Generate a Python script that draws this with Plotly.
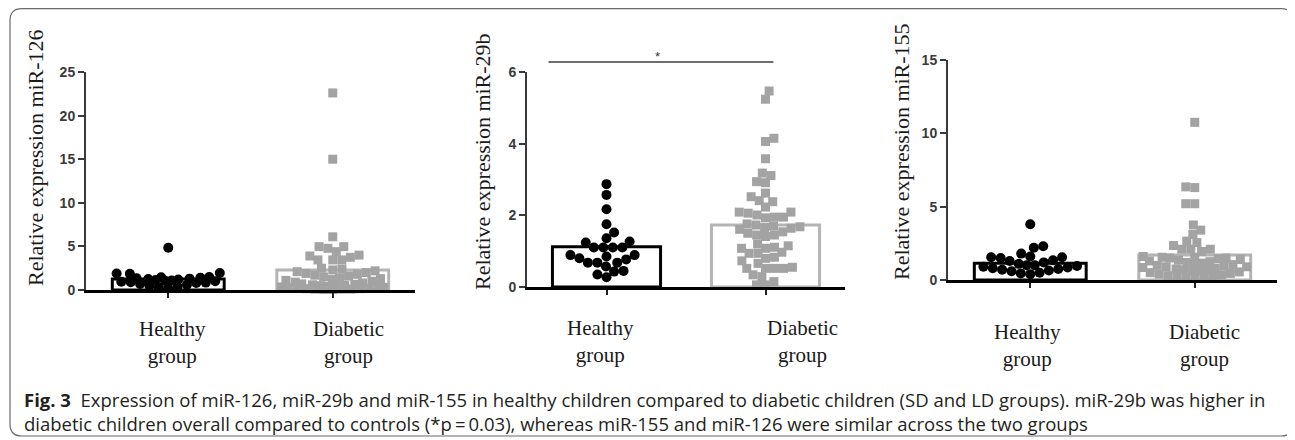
import math
import numpy as np
import plotly.graph_objects as go

# ---------------- data ----------------
GROUPS = ["Healthy group", "Diabetic group"]
TITLES = ["Relative expression miR-126", "Relative expression miR-29b", "Relative expression miR-155"]

HEALTHY_126 = [4.85, 1.95, 1.9, 1.85, 1.5, 1.45, 1.4, 1.35, 1.3, 1.25, 1.2, 1.15, 1.1,
               1.05, 1.0, 0.95, 0.9, 0.85, 0.8, 0.7, 0.6, 0.5, 0.4, 0.3, 0.2]
DIABETIC_126 = [22.6, 15.0, 6.1, 4.97, 4.97, 4.78, 4.4, 4.0, 3.9, 3.75, 3.45, 3.45, 3.45,
                2.5, 2.4, 2.3, 2.2, 2.1, 2.0, 1.9, 1.8, 1.7, 1.6, 1.5, 1.4, 1.3, 1.2, 1.1, 1.0,
                0.9, 0.8, 0.7, 0.65, 0.6, 0.55, 0.5, 0.45, 0.4, 0.35, 0.3, 0.3, 0.25, 0.2, 0.2,
                0.15, 0.15, 0.1, 0.1, 0.1, 0.05, 0.05]
MEANS_126 = [1.25, 2.3]

HEALTHY_29B = [2.87, 2.57, 2.17, 1.75, 1.52, 1.36, 1.27, 1.24, 1.1, 1.1, 1.1, 1.1, 0.89,
               0.89, 0.85, 0.77, 0.80, 0.68, 0.68, 0.68, 0.57, 0.43, 0.45, 0.35, 0.27]
DIABETIC_29B = [5.47, 5.24, 4.15, 4.06, 3.58, 3.18, 3.11, 2.94, 2.91, 2.62, 2.52, 2.41, 2.38, 2.23,
                2.09, 2.09, 2.06, 2.01, 1.95, 1.95, 1.93,
                1.76, 1.73, 1.70, 1.68, 1.66, 1.64, 1.61,
                1.54, 1.45, 1.41, 1.45, 1.50,
                1.20, 1.15, 1.11, 1.08, 1.08, 0.97, 0.94, 0.94,
                0.83, 0.80, 0.73, 0.66,
                0.55, 0.52, 0.52, 0.52, 0.52,
                0.34, 0.29, 0.15, 0.06, 0.06]
MEANS_29B = [1.12, 1.73]

HEALTHY_155 = [3.8, 2.3, 2.2, 1.8, 1.6, 1.55, 1.55, 1.5, 1.35, 1.3, 1.2, 1.1, 1.0, 1.0, 0.95,
               0.9, 0.85, 0.8, 0.75, 0.7, 0.65, 0.6, 0.5, 0.45, 0.4]
DIABETIC_155 = [10.75, 6.35, 6.3, 5.2, 5.2, 3.75, 3.4, 3.1, 2.65, 2.55, 2.35, 2.1, 2.1, 2.1, 1.95,
                1.6, 1.55, 1.55, 1.5, 1.5, 1.45, 1.4, 1.35, 1.3, 1.25, 1.2, 1.15, 1.1, 1.05, 1.0,
                0.95, 0.9, 0.9, 0.85, 0.8, 0.75, 0.7, 0.7, 0.65, 0.6, 0.55, 0.5, 0.45, 0.4, 0.35,
                0.3, 0.25, 0.2, 0.15, 0.1, 0.1]
MEANS_155 = [1.15, 1.7]

Y_MAX = [25, 6, 15]
Y_DTICK = [5, 2, 5]
SIG_LEVEL = 6.28
SIG_LABEL = "*"

CAPTION = ("<b>Fig. 3</b>  Expression of miR-126, miR-29b and miR-155 in healthy children compared to "
           "diabetic children (SD and LD groups). miR-29b was higher in<br>"
           "diabetic children overall compared to controls (*p\u2009=\u20090.03), whereas miR-155 and "
           "miR-126 were similar across the two groups")

# ---------------- layout geometry (window pixels) ----------------
VW, VH = 1295, 440          # browser window
OFF = 8                     # default page body margin
W, H = VW - OFF, VH - OFF   # figure size so the page fits the window exactly
PANELS = [
    dict(x=(86, 415), y=(72, 290)),
    dict(x=(527, 845), y=(72, 287)),
    dict(x=(948, 1277), y=(60, 280)),
]
XR = [0.5, 2.5]
BAR_W = 0.68
LABEL_POS = [  # (healthy x, diabetic x, y of two-line block centre)
    (173, 348, 342),
    (600, 802, 341),
    (1027, 1204, 345),
]
YTITLE_POS = [(35, 158), (483, 162), (902, 152)]

SERIF = "Liberation Serif, Times New Roman, serif"
SANS = "Liberation Sans, Arial, sans-serif"
CAPFONT = "Open Sans, Noto Sans, sans-serif"


def px(xp):
    return (xp - OFF) / W


def py(yp):
    return 1 - (yp - OFF) / H


def swarm(values, ppu, diam, max_half):
    vals = np.asarray(values, dtype=float)
    order = np.argsort(vals, kind="stable")
    placed = []
    xs = np.zeros(len(vals))
    side = 1
    for idx in order:
        y = vals[idx] * ppu
        chosen = None
        for shrink in [1.0, 0.85, 0.7, 0.55, 0.4, 0.25, 0.1]:
            d = diam * shrink
            cands = [0.0]
            for (qx, qy) in placed:
                dy = abs(qy - y)
                if dy < d:
                    dx = math.sqrt(d * d - dy * dy)
                    cands += [qx + dx, qx - dx]
            cands = sorted(cands, key=lambda c: (round(abs(c), 2), -c * side))
            for c in cands:
                if abs(c) > max_half:
                    continue
                if all((c - qx) ** 2 + (y - qy) ** 2 >= d * d - 1e-6 for qx, qy in placed):
                    chosen = c
                    break
            if chosen is not None:
                break
        if chosen is None:
            chosen = 0.0
        side = -side
        placed.append((chosen, y))
        xs[idx] = chosen
    return xs


fig = go.Figure()

datasets = [
    (HEALTHY_126, DIABETIC_126, MEANS_126),
    (HEALTHY_29B, DIABETIC_29B, MEANS_29B),
    (HEALTHY_155, DIABETIC_155, MEANS_155),
]

annotations = []
shapes = []

for i, (healthy, diabetic, means) in enumerate(datasets):
    p = PANELS[i]
    xa = "x" if i == 0 else f"x{i+1}"
    ya = "y" if i == 0 else f"y{i+1}"
    xkey = "xaxis" if i == 0 else f"xaxis{i+1}"
    ykey = "yaxis" if i == 0 else f"yaxis{i+1}"
    ppu_y = (p["y"][1] - p["y"][0]) / Y_MAX[i]
    ppu_x = (p["x"][1] - p["x"][0]) / (XR[1] - XR[0])

    # bars (means)
    for g, (col, lw) in enumerate([("#000000", 3), ("#b4b4b4", 3)]):
        fig.add_trace(go.Bar(
            x=[g + 1], y=[means[g]], width=BAR_W, xaxis=xa, yaxis=ya,
            marker=dict(color="white", line=dict(color=col, width=lw)),
            showlegend=False, hoverinfo="skip"))

    # points
    half = BAR_W * ppu_x / 2 - 4
    hx = swarm(healthy, ppu_y, 9.5, half) / ppu_x + 1
    dx = swarm(diabetic, ppu_y, 9.0, half) / ppu_x + 2
    fig.add_trace(go.Scatter(
        x=hx, y=healthy, mode="markers", xaxis=xa, yaxis=ya, cliponaxis=False,
        marker=dict(symbol="circle", size=10, color="#000000", line=dict(width=0)),
        showlegend=False, name=GROUPS[0]))
    fig.add_trace(go.Scatter(
        x=dx, y=diabetic, mode="markers", xaxis=xa, yaxis=ya, cliponaxis=False,
        marker=dict(symbol="square", size=9, color="#a3a3a3", line=dict(width=0)),
        showlegend=False, name=GROUPS[1]))

    fig.layout[xkey] = dict(
        domain=[px(p["x"][0]), px(p["x"][1])], range=XR, anchor=ya, automargin=False,
        showline=True, linecolor="#000000", linewidth=2.5,
        ticks="outside", tickvals=[1, 2], ticklen=5, tickwidth=1.5, tickcolor="#222",
        showticklabels=False, showgrid=False, zeroline=False, fixedrange=True)
    fig.layout[ykey] = dict(
        domain=[py(p["y"][1]), py(p["y"][0])], range=[0, Y_MAX[i]], anchor=xa, automargin=False,
        showline=True, linecolor="#3a3a3a", linewidth=2,
        ticks="outside", ticklen=6, tickwidth=2, tickcolor="#3a3a3a",
        dtick=Y_DTICK[i], tick0=0, showgrid=False, zeroline=False,
        tickfont=dict(family=SANS, size=14, color="#3a3a3a", weight="bold"),
        fixedrange=True)

    # y title
    tx, ty = YTITLE_POS[i]
    annotations.append(dict(
        text=TITLES[i], x=px(tx), y=py(ty), xref="paper", yref="paper",
        textangle=-90, showarrow=False, xanchor="center", yanchor="middle",
        font=dict(family=SERIF, size=22, color="#1a1a1a")))

    # category labels
    hxp, dxp, ly = LABEL_POS[i]
    for word, xx in [(GROUPS[0], hxp), (GROUPS[1], dxp)]:
        annotations.append(dict(
            text=word.replace(" ", "<br>"), x=px(xx), y=py(ly), xref="paper", yref="paper",
            showarrow=False, xanchor="center", yanchor="middle", align="center",
            font=dict(family=SERIF, size=21, color="#1a1a1a")))

# significance bar in panel 2
shapes.append(dict(type="line", xref="x2", yref="y2 domain",
                   x0=0.635, x1=2.05, y0=SIG_LEVEL / Y_MAX[1], y1=SIG_LEVEL / Y_MAX[1],
                   line=dict(color="#6e6e6e", width=2)))
annotations.append(dict(text=SIG_LABEL, xref="x2", yref="y2 domain", x=1.32,
                        y=SIG_LEVEL / Y_MAX[1], yanchor="bottom", showarrow=False,
                        yshift=-4, font=dict(family=SANS, size=13, color="#333")))

# caption (two lines in one text block)
annotations.append(dict(text=CAPTION, x=px(22), y=py(411), xref="paper", yref="paper",
                        xanchor="left", yanchor="middle", showarrow=False, align="left",
                        font=dict(family=CAPFONT, size=18.5, color="#231f20")))

# rounded frame
x0, x1, y0, y1, r = 10, 1293, 8.6, 436, 12
pts = [
    f"M{px(x0 + r)},{py(y0)}", f"L{px(x1 - r)},{py(y0)}", f"Q{px(x1)},{py(y0)} {px(x1)},{py(y0 + r)}",
    f"L{px(x1)},{py(y1 - r)}", f"Q{px(x1)},{py(y1)} {px(x1 - r)},{py(y1)}",
    f"L{px(x0 + r)},{py(y1)}", f"Q{px(x0)},{py(y1)} {px(x0)},{py(y1 - r)}",
    f"L{px(x0)},{py(y0 + r)}", f"Q{px(x0)},{py(y0)} {px(x0 + r)},{py(y0)}", "Z",
]
shapes.append(dict(type="path", xref="paper", yref="paper", path=" ".join(pts),
                   line=dict(color="#6a6a6a", width=1.2)))

fig.update_layout(
    width=W, height=H, margin=dict(l=0, r=0, t=0, b=0, autoexpand=False),
    paper_bgcolor="white", plot_bgcolor="rgba(0,0,0,0)",
    barmode="overlay", showlegend=False,
    annotations=annotations, shapes=shapes,
)

fig.write_html("out.html")
